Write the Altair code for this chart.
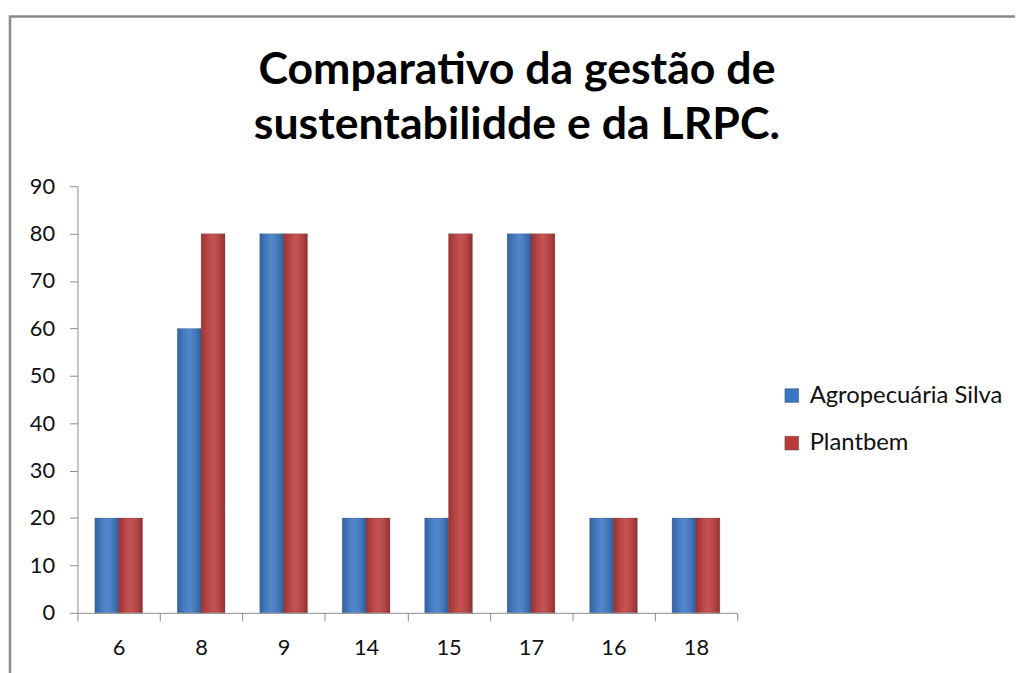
import altair as alt
import pandas as pd

categories = ["6", "8", "9", "14", "15", "17", "16", "18"]
agro = [20, 60, 80, 20, 20, 80, 20, 20]
plantbem = [20, 80, 80, 20, 80, 80, 20, 20]
series_names = ["Agropecuária Silva", "Plantbem"]
colors = ["#3a76c6", "#be3a3a"]
title_lines = ["Comparativo da gestão de", "sustentabilidde e da LRPC."]

rows = []
for c, a, p in zip(categories, agro, plantbem):
    rows.append({"cat": c, "serie": series_names[0], "valor": a})
    rows.append({"cat": c, "serie": series_names[1], "valor": p})
df = pd.DataFrame(rows)

FONT = "Lato"
W, H = 665, 430

x_enc = alt.X("cat:N", sort=categories, title=None,
              scale=alt.Scale(paddingInner=0, paddingOuter=0),
              axis=alt.Axis(labelAngle=0, tickBand="extent", grid=False,
                            domainColor="#8c8c8c", tickColor="#8c8c8c",
                            tickSize=8, labelFontSize=22, labelFont=FONT,
                            labelColor="#111", labelPadding=17))
xo_enc = alt.XOffset("serie:N", sort=series_names,
                     scale=alt.Scale(paddingInner=0, paddingOuter=0.73))
y_enc = alt.Y("valor:Q", title=None,
              scale=alt.Scale(domain=[0, 90]),
              axis=alt.Axis(values=list(range(0, 91, 10)), grid=False,
                            domainColor="#8c8c8c", tickColor="#8c8c8c",
                            tickSize=8, labelFontSize=22, labelFont=FONT,
                            labelColor="#111", labelPadding=15))

bars = alt.Chart(df).mark_bar(stroke="#5a5a5a", strokeOpacity=0.35, strokeWidth=0.8).encode(
    x=x_enc, xOffset=xo_enc, y=y_enc,
    color=alt.Color("serie:N", sort=series_names,
                    scale=alt.Scale(domain=series_names, range=colors),
                    legend=alt.Legend(title=None, orient="none", legendX=708, legendY=199,
                                      symbolType="square", symbolSize=190,
                                      symbolStrokeWidth=0.5, symbolStrokeColor="#444",
                                      labelFontSize=24, labelFont=FONT, labelColor="#111",
                                      labelLimit=400, rowPadding=24, labelOffset=6)),
)

shade = alt.Chart(df).mark_bar(
    fill=alt.Gradient(
        gradient="linear", x1=0, x2=1, y1=0, y2=0,
        stops=[alt.GradientStop(offset=0, color="rgba(0,0,0,0.18)"),
               alt.GradientStop(offset=0.5, color="rgba(255,255,255,0.12)"),
               alt.GradientStop(offset=1, color="rgba(0,0,0,0.22)")])
).encode(x=x_enc, xOffset=xo_enc, y=y_enc)

border = alt.Chart(pd.DataFrame({"k": [0]})).mark_rect(
    fill=None, stroke="#8a8a8a", strokeWidth=2.5
).encode(x=alt.value(-68), x2=alt.value(1000), y=alt.value(-171), y2=alt.value(800))

title = alt.Chart(pd.DataFrame({"k": [0]})).mark_text(
    font=FONT, fontSize=45, fontWeight="bold", color="#000",
    lineHeight=55, align="center", baseline="middle"
).encode(x=alt.value(443), y=alt.value(-117), text=alt.value(title_lines))

chart = alt.layer(border, bars, shade, title).properties(
    width=W, height=H,
    autosize=alt.AutoSizeParams(type="none"),
    padding={"left": 70, "top": 177, "right": 280, "bottom": 58},
).configure_view(stroke=None)

chart.save("out.html", embed_options={"renderer": "svg", "actions": False})
